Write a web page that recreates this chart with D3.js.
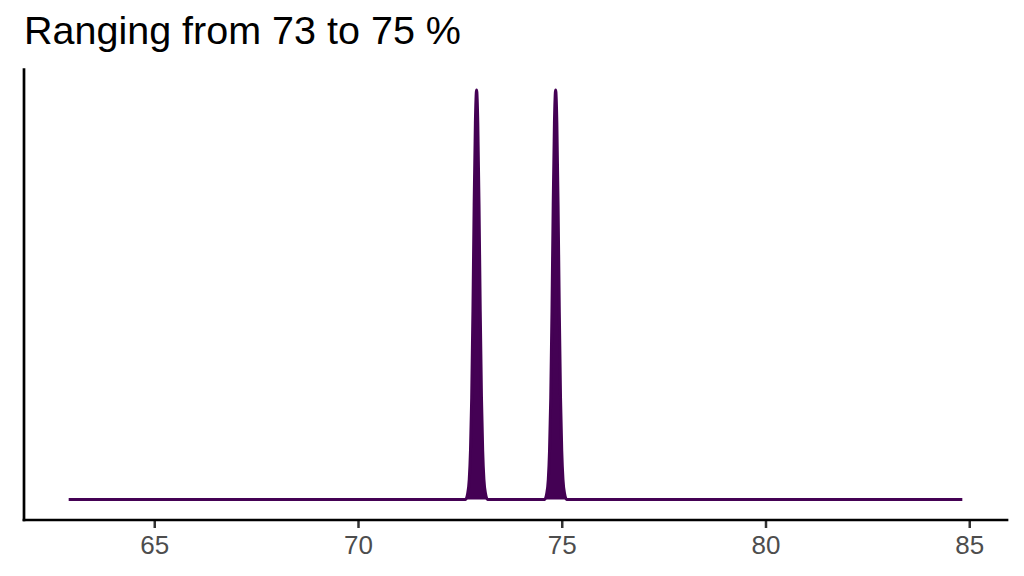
<!DOCTYPE html>
<html>
<head>
<meta charset="utf-8">
<script src="https://cdn.jsdelivr.net/npm/d3@7"></script>
<style>
  body { margin: 0; background: #fff; }
  svg { display: block; font-family: "Liberation Sans", Arial, sans-serif; }
</style>
</head>
<body>
<svg id="chart" width="1024" height="576"></svg>
<script>
  // density estimate: two very narrow peaks near 73 and 75
  const densityX = [62.9,
    72.64, 72.69, 72.73, 72.76, 72.79, 72.82, 72.85, 72.88, 72.91,
    72.94, 72.97, 73.00, 73.03, 73.06, 73.09, 73.13, 73.18,
    74.58, 74.63, 74.67, 74.70, 74.73, 74.76, 74.79, 74.82, 74.85,
    74.88, 74.91, 74.94, 74.97, 75.00, 75.03, 75.07, 75.12,
    84.83]
  const densityY = [0,
    0, 0.04, 0.14, 0.34, 0.71, 1.31, 2.05, 2.62, 2.85,
    2.62, 2.05, 1.31, 0.71, 0.34, 0.14, 0.04, 0,
    0, 0.04, 0.14, 0.34, 0.71, 1.31, 2.05, 2.62, 2.85,
    2.62, 2.05, 1.31, 0.71, 0.34, 0.14, 0.04, 0,
    0]
  const xTicks = [65, 70, 75, 80, 85]
  const title = "Ranging from 73 to 75 %"

  ;(() => {
    const data = densityX.map((x, i) => ({ x, y: densityY[i] }))
    const purple = "#440154"

    const svg = d3.select('#chart')
    const pLeft = 24, pRight = 1007, pTop = 69.5, pBottom = 520

    // ggplot style 5% expansion
    const [x0, x1] = d3.extent(densityX)
    const xpad = (x1 - x0) * 0.05
    const x = d3.scaleLinear().domain([x0 - xpad, x1 + xpad]).range([pLeft, pRight])
    const ymax = d3.max(densityY)
    const y = d3.scaleLinear().domain([-ymax * 0.05, ymax * 1.05]).range([pBottom, pTop])

    svg.append("path")
      .datum(data)
      .attr("fill", purple)
      .attr("d", d3.area().x(d => x(d.x)).y0(y(0)).y1(d => y(d.y)).curve(d3.curveMonotoneX))

    svg.append("path")
      .datum(data)
      .attr("fill", "none")
      .attr("stroke", purple)
      .attr("stroke-width", 3)
      .attr("stroke-linejoin", "round")
      .attr("d", d3.line().x(d => x(d.x)).y(d => y(d.y)).curve(d3.curveMonotoneX))

    // axes
    const xAxis = svg.append("g")
      .attr("transform", `translate(0,${pBottom})`)
      .call(d3.axisBottom(x).tickValues(xTicks).tickSize(8).tickPadding(8).tickFormat(d3.format("d")))
    xAxis.select(".domain").remove()
    xAxis.selectAll(".tick line").attr("stroke", "#333").attr("stroke-width", 2.5)
    xAxis.selectAll(".tick text").attr("fill", "#4d4d4d").style("font-size", "26px")
      .attr("font-family", "Liberation Sans, Arial, sans-serif")

    svg.append("line")
      .attr("x1", pLeft).attr("x2", pRight).attr("y1", pBottom).attr("y2", pBottom)
      .attr("stroke", "#000").attr("stroke-width", 2.7).attr("stroke-linecap", "square")
    svg.append("line")
      .attr("x1", pLeft).attr("x2", pLeft).attr("y1", pTop).attr("y2", pBottom)
      .attr("stroke", "#000").attr("stroke-width", 2.7).attr("stroke-linecap", "square")

    svg.append("text")
      .attr("x", 24).attr("y", 44)
      .style("font-size", "39.5px")
      .attr("fill", "#000")
      .text(title)
  })()
</script>
</body>
</html>
